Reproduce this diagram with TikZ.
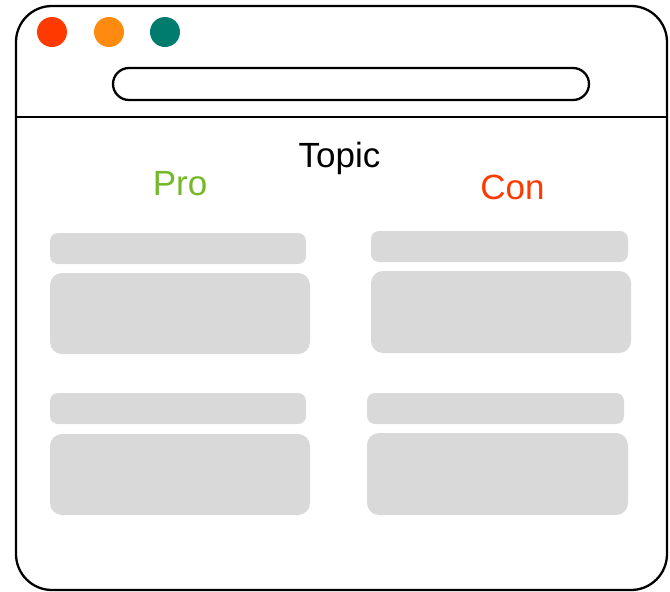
\documentclass[tikz,border=0pt]{standalone}
\usepackage{fontspec}
\setmainfont{Liberation Sans}
\definecolor{dotred}{HTML}{FF3A00}
\definecolor{dotorange}{HTML}{FF8A10}
\definecolor{dotteal}{HTML}{007C6E}
\definecolor{progreen}{HTML}{77B82A}
\definecolor{conred}{HTML}{FF3A00}
\definecolor{boxgray}{HTML}{D9D9D9}
\begin{document}
\begin{tikzpicture}[x=1pt,y=-1pt,
  frame/.style={draw=black,line width=2.3pt},
  dot/.style={circle,minimum size=30pt,inner sep=0pt},
  graybox/.style={fill=boxgray,draw=none},
  label/.style={font=\fontsize{35}{42}\selectfont,anchor=base,inner sep=0pt}]
\useasboundingbox (0,0) rectangle (670,592);
% window frame
\draw[frame,rounded corners=36pt] (16,6) rectangle (667,590);
\draw[frame] (17,117) -- (666,117);
% traffic lights
\node[dot,fill=dotred] (d1) at (52,32) {};
\node[dot,fill=dotorange] (d2) at (109,32) {};
\node[dot,fill=dotteal] (d3) at (165,32) {};
% address bar
\draw[frame,rounded corners=16pt] (113,68) rectangle (589,100);
% texts
\node[label] (topic) at (339.5,167) {Topic};
\node[label,text=progreen] (pro) at (180,195) {Pro};
\node[label,text=conred] (con) at (512.5,199) {Con};
% pro boxes
\fill[graybox,rounded corners=8pt] (50,233) rectangle (306,264);
\fill[graybox,rounded corners=12pt] (50,273) rectangle (310,354);
\fill[graybox,rounded corners=8pt] (50,393) rectangle (306,424);
\fill[graybox,rounded corners=12pt] (50,434) rectangle (310,515);
% con boxes
\fill[graybox,rounded corners=8pt] (371,231) rectangle (628,262);
\fill[graybox,rounded corners=12pt] (371,271) rectangle (631,353);
\fill[graybox,rounded corners=8pt] (367,393) rectangle (624,424);
\fill[graybox,rounded corners=12pt] (367,433) rectangle (628,515);
\end{tikzpicture}
\end{document}
